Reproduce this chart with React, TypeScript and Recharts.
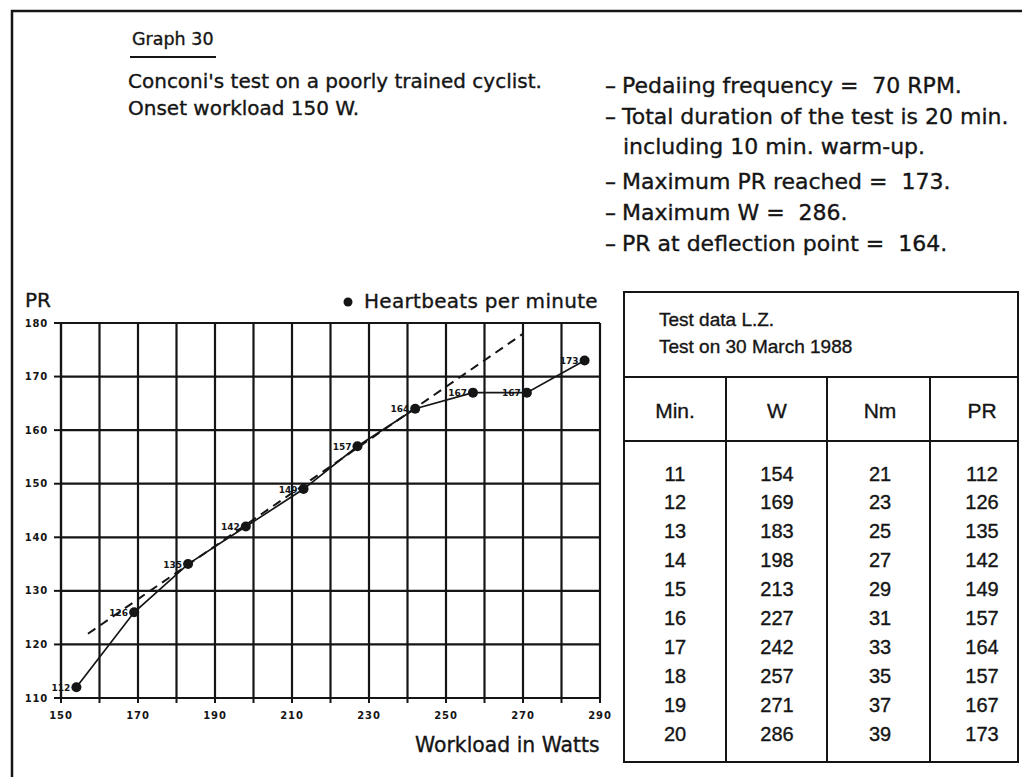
import { LineChart, Line, XAxis, YAxis, CartesianGrid, ReferenceLine, LabelList } from 'recharts';

// chart axes
const xTicks = [150, 160, 170, 180, 190, 200, 210, 220, 230, 240, 250, 260, 270, 280, 290];
const xTickLabels = [150, 170, 190, 210, 230, 250, 270, 290];
const yTicks = [110, 120, 130, 140, 150, 160, 170, 180];

// test data (chart)
const watts = [154, 169, 183, 198, 213, 227, 242, 257, 271, 286];
const heartRate = [112, 126, 135, 142, 149, 157, 164, 167, 167, 173];

// dashed linear trend up to the deflection point
const trendW = [157, 270];
const trendPr = [122, 178];

// table columns (as printed)
const minutes = [11, 12, 13, 14, 15, 16, 17, 18, 19, 20];
const torqueNm = [21, 23, 25, 27, 29, 31, 33, 35, 37, 39];
const tablePr = [112, 126, 135, 142, 149, 157, 164, 157, 167, 173];
const tableHeads = ['Min.', 'W', 'Nm', 'PR'];

const notes = [
    'Pedaiing frequency = \u00a070 RPM.',
    'Total duration of the test is 20 min.',
    'including 10 min. warm-up.',
    'Maximum PR reached = \u00a0173.',
    'Maximum W = \u00a0286.',
    'PR at deflection point = \u00a0164.',
];

const data = watts.map((w, i) => ({ w, pr: heartRate[i] }));

const INK = '#151515';
const SANS = '"DejaVu Sans", sans-serif';
const TABLE_FONT = '"Liberation Sans", Arial, sans-serif';

const XTick = ({ x, y, payload }: any) => {
    if (!xTickLabels.includes(payload.value)) return <g />;
    return (
        <text x={x} y={y + 14} textAnchor="middle" fontSize={10} fontWeight="bold" letterSpacing={0.8} fill={INK} fontFamily={SANS}>
            {payload.value}
        </text>
    );
};

const YTick = ({ x, y, payload }: any) => (
    <text x={x} y={y + 3.5} textAnchor="end" fontSize={10} fontWeight="bold" letterSpacing={0.8} fill={INK} fontFamily={SANS}>
        {payload.value}
    </text>
);

const PointLabel = ({ x, y, value }: any) => (
    <text x={x - 6} y={y + 3.5} textAnchor="end" fontSize={9} fontWeight="bold" fill={INK} fontFamily={SANS}>
        {value}
    </text>
);

const colX = [675, 777, 880, 982];
const noteY = [93, 124, 154, 189, 220, 251];

export default function App() {
    return (
        <div style={{ position: 'relative', width: 1022, height: 777, background: '#fff', overflow: 'hidden' }}>
            <style>{'body{margin:0}'}</style>
            <svg width={1022} height={777} style={{ position: 'absolute', left: 0, top: 0 }} fontFamily={SANS} fill={INK}>
                {/* page frame */}
                <path d="M12,777 L12,11 L1022,11" stroke={INK} strokeWidth={2.5} fill="none" />

                <g stroke={INK} strokeWidth={0.35}>
                    {/* header */}
                    <text x={132} y={45} fontSize={17.5}>Graph 30</text>
                    <text x={128} y={88} fontSize={20}>Conconi's test on a poorly trained cyclist.</text>
                    <text x={128} y={115} fontSize={20}>Onset workload 150 W.</text>

                    {notes.map((n, i) => (
                        <g key={n}>
                            {i !== 2 && <text x={605} y={noteY[i]} fontSize={22}>–</text>}
                            <text x={i === 2 ? 623 : 622} y={noteY[i]} fontSize={22}>{n}</text>
                        </g>
                    ))}

                    {/* chart titles */}
                    <text x={25} y={307} fontSize={20}>PR</text>
                    <text x={364} y={308} fontSize={20} letterSpacing={0.3}>Heartbeats per minute</text>
                    <text x={415} y={752} fontSize={20.4}>Workload in Watts</text>
                </g>
                <line x1={130} x2={216} y1={57} y2={57} stroke={INK} strokeWidth={2} />
                <circle cx={348} cy={302} r={4.5} fill={INK} />

                {/* data table */}
                <g stroke={INK} strokeWidth={2} fill="none">
                    <rect x={624} y={292} width={394} height={470} />
                    <line x1={624} x2={1018} y1={377} y2={377} />
                    <line x1={624} x2={1018} y1={441} y2={441} />
                    <line x1={726} x2={726} y1={377} y2={762} />
                    <line x1={827} x2={827} y1={377} y2={762} />
                    <line x1={930} x2={930} y1={377} y2={762} />
                </g>
                <g fontFamily={TABLE_FONT} stroke={INK} strokeWidth={0.35}>
                    <text x={659} y={326} fontSize={19}>Test data L.Z.</text>
                    <text x={659} y={353} fontSize={19}>Test on 30 March 1988</text>
                    {tableHeads.map((h, i) => (
                        <text key={h} x={colX[i]} y={418} fontSize={21} textAnchor="middle">{h}</text>
                    ))}
                    {minutes.map((m, i) => {
                        const y = 480.5 + i * 28.9;
                        return (
                            <g key={m} fontSize={20} textAnchor="middle">
                                <text x={colX[0]} y={y}>{m}</text>
                                <text x={colX[1]} y={y}>{watts[i]}</text>
                                <text x={colX[2]} y={y}>{torqueNm[i]}</text>
                                <text x={colX[3]} y={y}>{tablePr[i]}</text>
                            </g>
                        );
                    })}
                </g>
            </svg>

            <div style={{ position: 'absolute', left: 0, top: 280 }}>
                <LineChart width={620} height={480} data={data} margin={{ top: 43, right: 20, bottom: 32, left: 16 }}>
                    <CartesianGrid stroke={INK} strokeWidth={2.2} />
                    <XAxis
                        type="number"
                        dataKey="w"
                        domain={[150, 290]}
                        ticks={xTicks}
                        interval={0}
                        height={30}
                        tickSize={5}
                        axisLine={{ stroke: INK, strokeWidth: 2.2 }}
                        tickLine={{ stroke: INK, strokeWidth: 2 }}
                        tick={<XTick />}
                    />
                    <YAxis
                        type="number"
                        domain={[110, 180]}
                        ticks={yTicks}
                        interval={0}
                        width={45}
                        tickSize={7}
                        tickMargin={6}
                        axisLine={{ stroke: INK, strokeWidth: 2.2 }}
                        tickLine={{ stroke: INK, strokeWidth: 2 }}
                        tick={<YTick />}
                    />
                    <ReferenceLine
                        segment={[{ x: trendW[0], y: trendPr[0] }, { x: trendW[1], y: trendPr[1] }]}
                        stroke={INK}
                        strokeWidth={2}
                        strokeDasharray="9 6"
                    />
                    <Line
                        dataKey="pr"
                        type="linear"
                        stroke={INK}
                        strokeWidth={1.7}
                        dot={{ r: 5, fill: INK, stroke: INK, strokeWidth: 0 }}
                        activeDot={false}
                        isAnimationActive={false}
                    >
                        <LabelList dataKey="pr" content={<PointLabel />} />
                    </Line>
                </LineChart>
            </div>
        </div>
    );
}
